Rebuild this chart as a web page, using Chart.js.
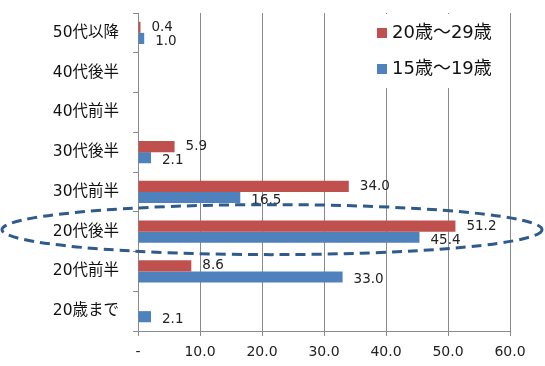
<!DOCTYPE html>
<html>
<head>
<meta charset="utf-8">
<script src="https://cdn.jsdelivr.net/npm/chart.js@4/dist/chart.umd.min.js"></script>
<style>
  html, body { margin: 0; padding: 0; background: #fff; }
  #wrap { width: 545px; height: 366px; position: relative; }
</style>
</head>
<body>
<div id="wrap"><canvas id="chart"></canvas></div>
<script>
// categories top -> bottom
const categories = ['50代以降', '40代後半', '40代前半', '30代後半', '30代前半', '20代後半', '20代前半', '20歳まで'];
const seriesNames = ['20歳～29歳', '15歳～19歳'];
const values2029 = [0.4, null, null, 5.9, 34.0, 51.2, 8.6, null];
const values1519 = [1.0, null, null, 2.1, 16.5, 45.4, 33.0, 2.1];
const xTicks = [0, 10, 20, 30, 40, 50, 60];
const highlightCategory = '20代後半';

const RED = '#C0504D';
const BLUE = '#4F81BD';
const JP_FONT = '"DejaVu Sans", "Noto Sans CJK JP", sans-serif';

// value labels at bar ends
const valueLabels = {
  id: 'valueLabels',
  afterDatasetsDraw(chart) {
    const ctx = chart.ctx;
    ctx.save();
    ctx.font = '13.5px ' + JP_FONT;
    ctx.fillStyle = '#222';
    ctx.textBaseline = 'middle';
    ctx.textAlign = 'left';
    chart.data.datasets.forEach((ds, di) => {
      const meta = chart.getDatasetMeta(di);
      meta.data.forEach((bar, i) => {
        const v = ds.data[i];
        if (v == null) return;
        ctx.fillText(v.toFixed(1), bar.x + 11, bar.y + (di === 0 ? 0 : 3));
      });
    });
    ctx.restore();
  }
};

// legend box inside the plot, top right
const boxLegend = {
  id: 'boxLegend',
  afterDraw(chart) {
    const ctx = chart.ctx;
    const area = chart.chartArea;
    const x0 = area.right - 140, y0 = area.top + 1;
    ctx.save();
    ctx.fillStyle = '#fff';
    ctx.fillRect(x0, y0, 135, 74);
    ctx.font = '18px ' + JP_FONT;
    ctx.textBaseline = 'middle';
    chart.data.datasets.forEach((ds, di) => {
      const y = y0 + 19 + di * 36;
      ctx.fillStyle = ds.backgroundColor;
      ctx.fillRect(x0 + 7, y - 5, 10, 10);
      ctx.fillStyle = '#111';
      ctx.fillText(ds.label, x0 + 22, y);
    });
    ctx.restore();
  }
};

// dashed ellipse around the highlighted row
const highlightRing = {
  id: 'highlightRing',
  afterDraw(chart) {
    const ctx = chart.ctx;
    const yScale = chart.scales.y;
    const cy = yScale.getPixelForValue(categories.indexOf(highlightCategory)) - 2;
    ctx.save();
    ctx.strokeStyle = '#2F5A8C';
    ctx.lineWidth = 3;
    ctx.setLineDash([10, 6]);
    ctx.beginPath();
    ctx.ellipse(272, cy, 270, 25, 0, 0, Math.PI * 2);
    ctx.stroke();
    ctx.restore();
  }
};

new Chart(document.getElementById('chart'), {
  type: 'bar',
  data: {
    labels: categories,
    datasets: [
      { label: seriesNames[0], data: values2029, backgroundColor: RED, barPercentage: 1, categoryPercentage: 0.56 },
      { label: seriesNames[1], data: values1519, backgroundColor: BLUE, barPercentage: 1, categoryPercentage: 0.56 }
    ]
  },
  options: {
    indexAxis: 'y',
    responsive: true,
    maintainAspectRatio: false,
    animation: false,
    layout: { padding: { top: 13, right: 35, left: 0, bottom: 0 } },
    plugins: {
      legend: { display: false },
      tooltip: { enabled: false }
    },
    scales: {
      x: {
        min: 0,
        max: 60,
        afterBuildTicks(s) { s.ticks = xTicks.map(v => ({ value: v })); },
        afterFit(s) { s.height = 35; s.paddingLeft = 0; s.paddingRight = 0; },
        grid: { color: '#8a8a8a', lineWidth: 1, tickLength: 5, drawTicks: true },
        border: { color: '#8a8a8a' },
        ticks: {
          color: '#222',
          padding: 8,
          font: { family: JP_FONT, size: 14 },
          callback: v => v === 0 ? '-' : v.toFixed(1)
        }
      },
      y: {
        afterFit(s) { s.width = 138; s.paddingTop = 0; s.paddingBottom = 0; },
        grid: { drawOnChartArea: false, offset: true, tickLength: 5, color: '#8a8a8a' },
        border: { color: '#8a8a8a' },
        ticks: {
          color: '#111',
          padding: 14,
          font: { family: JP_FONT, size: 15.5 }
        }
      }
    }
  },
  plugins: [valueLabels, boxLegend, highlightRing]
});
</script>
</body>
</html>
